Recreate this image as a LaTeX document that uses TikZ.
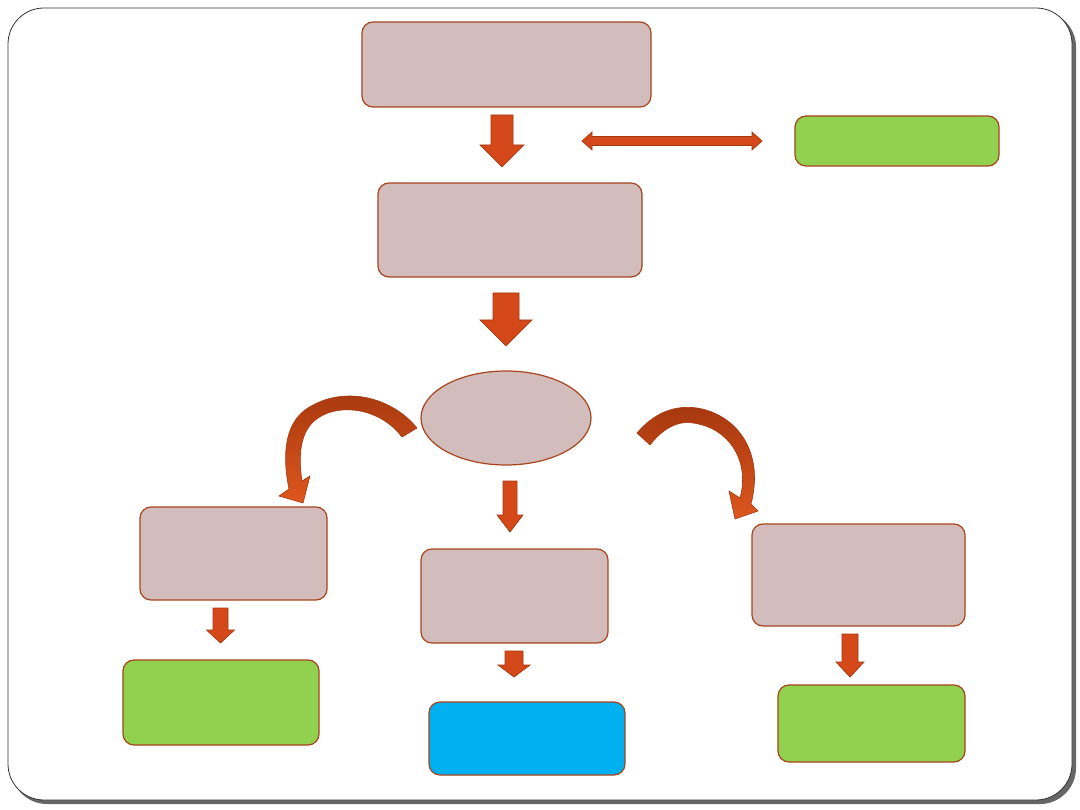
\documentclass[tikz,border=0pt]{standalone}
\usetikzlibrary{shapes.geometric}

\definecolor{boxfill}{HTML}{D3BCBC}
\definecolor{boxline}{HTML}{A8441C}
\definecolor{arrowfill}{HTML}{D4481A}
\definecolor{arrowdark}{HTML}{A5380F}
\definecolor{arrowlight}{HTML}{DE561E}
\definecolor{leafgreen}{HTML}{92D050}
\definecolor{skyblue}{HTML}{00B0F0}

\tikzset{
  panel/.style={rectangle, draw=boxline, line width=1.2pt, rounded corners=11pt, inner sep=0pt, outer sep=0pt},
  pinkbox/.style={panel, fill=boxfill},
  greenbox/.style={panel, fill=leafgreen},
  bluebox/.style={panel, fill=skyblue},
  blockarrow/.style={fill=arrowfill, draw=arrowdark, line width=0.7pt, line join=miter},
  bentarrow/.style={draw=arrowdark, line width=0.6pt, top color=arrowdark, middle color=arrowdark!60!arrowlight, bottom color=arrowlight}
}

\begin{document}
\begin{tikzpicture}[x=1pt, y=-1pt]
\useasboundingbox (0,0) rectangle (1080,810);

% Slide frame with shadow
\fill[black!60, rounded corners=36pt] (11,11) rectangle (1076,804);
\filldraw[fill=white, draw=black!80, line width=0.8pt, rounded corners=36pt] (8,8) rectangle (1072,800);

% Boxes
\node[pinkbox, minimum width=289pt, minimum height=85pt] (top) at (506.5,64.5) {};
\node[pinkbox, minimum width=264pt, minimum height=94pt] (middle) at (510,230) {};
\node[greenbox, minimum width=204pt, minimum height=50pt] (sidenote) at (897,141) {};
\node[ellipse, draw=boxline, fill=boxfill, line width=1.2pt, inner sep=0pt,
      minimum width=170pt, minimum height=94pt] (hub) at (506,418) {};
\node[pinkbox, minimum width=187pt, minimum height=93pt] (leftbox) at (233.5,553.5) {};
\node[pinkbox, minimum width=187pt, minimum height=94pt] (centrebox) at (514.5,596) {};
\node[pinkbox, minimum width=213pt, minimum height=102pt] (rightbox) at (858.5,575) {};
\node[greenbox, minimum width=196pt, minimum height=85pt] (leftout) at (221,702.5) {};
\node[bluebox, minimum width=196pt, minimum height=73pt] (centreout) at (527,738.5) {};
\node[greenbox, minimum width=187pt, minimum height=77pt] (rightout) at (871.5,723.5) {};

% Block arrows pointing down (centre x / top / tip / shaft / head / head length)
\foreach \cx/\ya/\yb/\sw/\hw/\hl in {
  502/115/167/11/22/22,
  506/293/346/13/26/26,
  510/481/532/7/13/17,
  220.5/608/643/7.5/14/13,
  514/651/677/9/16/12,
  850/634/677/8/14/15
} {
  \filldraw[blockarrow] (\cx-\sw,\ya) -- (\cx+\sw,\ya) -- (\cx+\sw,\yb-\hl) -- (\cx+\hw,\yb-\hl)
    -- (\cx,\yb) -- (\cx-\hw,\yb-\hl) -- (\cx-\sw,\yb-\hl) -- cycle;
}

% Double arrow
\filldraw[blockarrow] (582,141) -- (592,132) -- (592,136.5) -- (752,136.5) -- (752,132) -- (762,141)
  -- (752,150) -- (752,145.5) -- (592,145.5) -- (592,150) -- cycle;

% Curved arrows from the ellipse
\path[bentarrow] (417,428) .. controls (390,395) and (340,385) .. (305,410)
  .. controls (285,425) and (282,455) .. (289,489) -- (279,496) -- (303,503) -- (310,476)
  -- (302,481) .. controls (298,455) and (300,430) .. (318,418)
  .. controls (340,403) and (380,408) .. (402,437) -- cycle;
\path[bentarrow] (637,433) .. controls (655,412) and (675,405) .. (697,408)
  .. controls (735,414) and (765,450) .. (751,504) -- (758,511) -- (735,519) -- (729,491)
  -- (740,498) .. controls (750,462) and (730,428) .. (693,423)
  .. controls (675,420) and (660,432) .. (650,445) -- cycle;
\end{tikzpicture}
\end{document}
